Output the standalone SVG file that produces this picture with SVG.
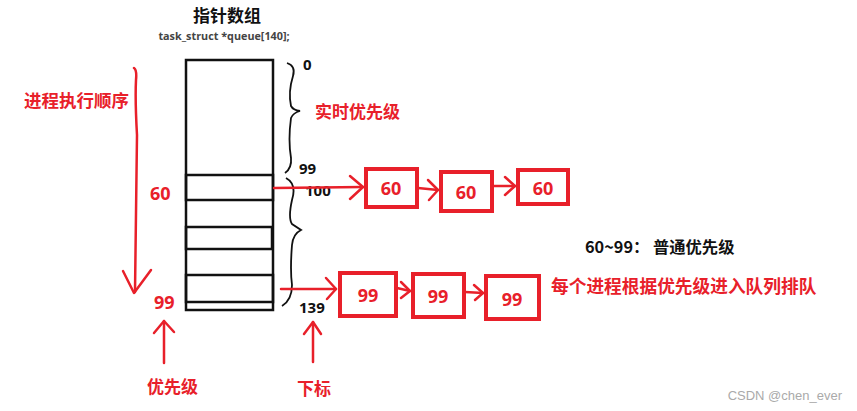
<svg xmlns="http://www.w3.org/2000/svg" width="857" height="411" viewBox="0 0 857 411">
<defs>
<style>
.cjk{font-family:"Noto Sans CJK SC","Noto Sans",sans-serif;font-weight:bold}
.red{fill:#e8202a}
.blk{fill:#111}
.num{font-family:"Open Sans","Liberation Sans",sans-serif;font-weight:bold}
.box{fill:#fff;stroke:#e8202a;stroke-width:4}
.rl{fill:none;stroke:#e8202a;stroke-width:2.5;stroke-linecap:round;stroke-linejoin:round}
.tl{fill:none;stroke:#111;stroke-width:2.5}
.br{fill:none;stroke:#111;stroke-width:1.8}
</style>
</defs>
<rect width="857" height="411" fill="#fff"/>
<text class="cjk blk" x="227" y="22" font-size="17" text-anchor="middle">指针数组</text>
<text class="num" x="224" y="40" font-size="10.8" fill="#444" text-anchor="middle">task_struct *queue[140];</text>

<g id="table">
<rect class="tl" x="186" y="60" width="87" height="250"/>
<rect class="tl" x="186" y="175" width="87" height="25" stroke-width="3"/>
<rect class="tl" x="186" y="227" width="86" height="22" stroke-width="3"/>
<rect class="tl" x="186" y="275" width="87" height="27" stroke-width="3"/>
</g>

<g id="braces">
<path class="br" d="M287,63 Q296,66 293,76 Q288,92 291,106 Q293,110 300,111 Q293,113 291,118 Q288,140 291,158 Q292,168 285,173"/>
<path class="br" d="M286,178 Q297,184 292,200 Q288,218 292,224 Q298,228 301,230 Q293,234 292,245 Q290,270 292,285 Q292,300 282,306"/>
</g>

<g id="labels">
<text class="num blk" x="303" y="70" font-size="15">0</text>
<text class="num blk" x="299" y="174" font-size="15">99</text>
<text class="num blk" x="305" y="196" font-size="15">100</text>
<text class="num blk" x="299" y="313" font-size="15">139</text>
<text class="cjk red" x="315" y="118" font-size="17">实时优先级</text>
<text class="cjk red" x="24" y="107" font-size="17.5">进程执行顺序</text>
<text class="num red" x="150" y="200" font-size="18">60</text>
<text class="num red" x="154" y="309" font-size="18">99</text>
<text class="cjk red" x="147" y="393" font-size="17">优先级</text>
<text class="cjk red" x="297" y="395" font-size="17">下标</text>
<text class="cjk blk" x="585" y="253" font-size="16.3">60~99： 普通优先级</text>
<text class="cjk red" x="551" y="293" font-size="17.7">每个进程根据优先级进入队列排队</text>
<text x="842" y="400" font-family="Liberation Sans,Arial,sans-serif" font-size="13" fill="#aaa" text-anchor="end">CSDN @chen_ever</text>
</g>

<g id="n60a"><rect class="box" x="366" y="169" width="51" height="38"/><text class="num red" x="391" y="195" font-size="18" text-anchor="middle">60</text></g>
<g id="n60b"><rect class="box" x="441" y="172" width="51" height="39"/><text class="num red" x="466" y="199" font-size="18" text-anchor="middle">60</text></g>
<g id="n60c"><rect class="box" x="518" y="170" width="50" height="34"/><text class="num red" x="543" y="195" font-size="18" text-anchor="middle">60</text></g>
<g id="n99a"><rect class="box" x="340" y="273" width="56" height="43"/><text class="num red" x="368" y="302" font-size="18" text-anchor="middle">99</text></g>
<g id="n99b"><rect class="box" x="413" y="274" width="51" height="43"/><text class="num red" x="438" y="303" font-size="18" text-anchor="middle">99</text></g>
<g id="n99c"><rect class="box" x="486" y="276" width="53" height="43"/><text class="num red" x="512" y="306" font-size="18" text-anchor="middle">99</text></g>

<g id="connectors">
<path class="rl" d="M274,188 L363,187" stroke-width="4"/>
<path class="rl" d="M350,176 L363,187 L350,199" stroke-width="4"/>
<path class="rl" d="M418,188 L438,190" stroke-width="4"/>
<path class="rl" d="M428,180 L438,190 L429,200" stroke-width="4"/>
<path class="rl" d="M493,186 L515,186" stroke-width="4"/>
<path class="rl" d="M505,177 L515,186 L505,195" stroke-width="4"/>
<path class="rl" d="M281,289 L336,289"/>
<path class="rl" d="M326,278 L336,289 L327,299"/>
<path class="rl" d="M397,288 L410,291"/>
<path class="rl" d="M401,282 L410,291 L401,298"/>
<path class="rl" d="M465,292 L483,293"/>
<path class="rl" d="M474,285 L483,293 L475,300"/>
<path class="rl" d="M134,68 Q137,70 136,80 Q135,100 137,135 Q136,200 135,292"/>
<path class="rl" d="M123,271 L134,293 L151,270"/>
<path class="rl" d="M164,363 L164,321"/>
<path class="rl" d="M154,333 L164,321 L174,332"/>
<path class="rl" d="M313,362 L313,322"/>
<path class="rl" d="M304,334 L313,322 L321,334"/>
</g>
</svg>
